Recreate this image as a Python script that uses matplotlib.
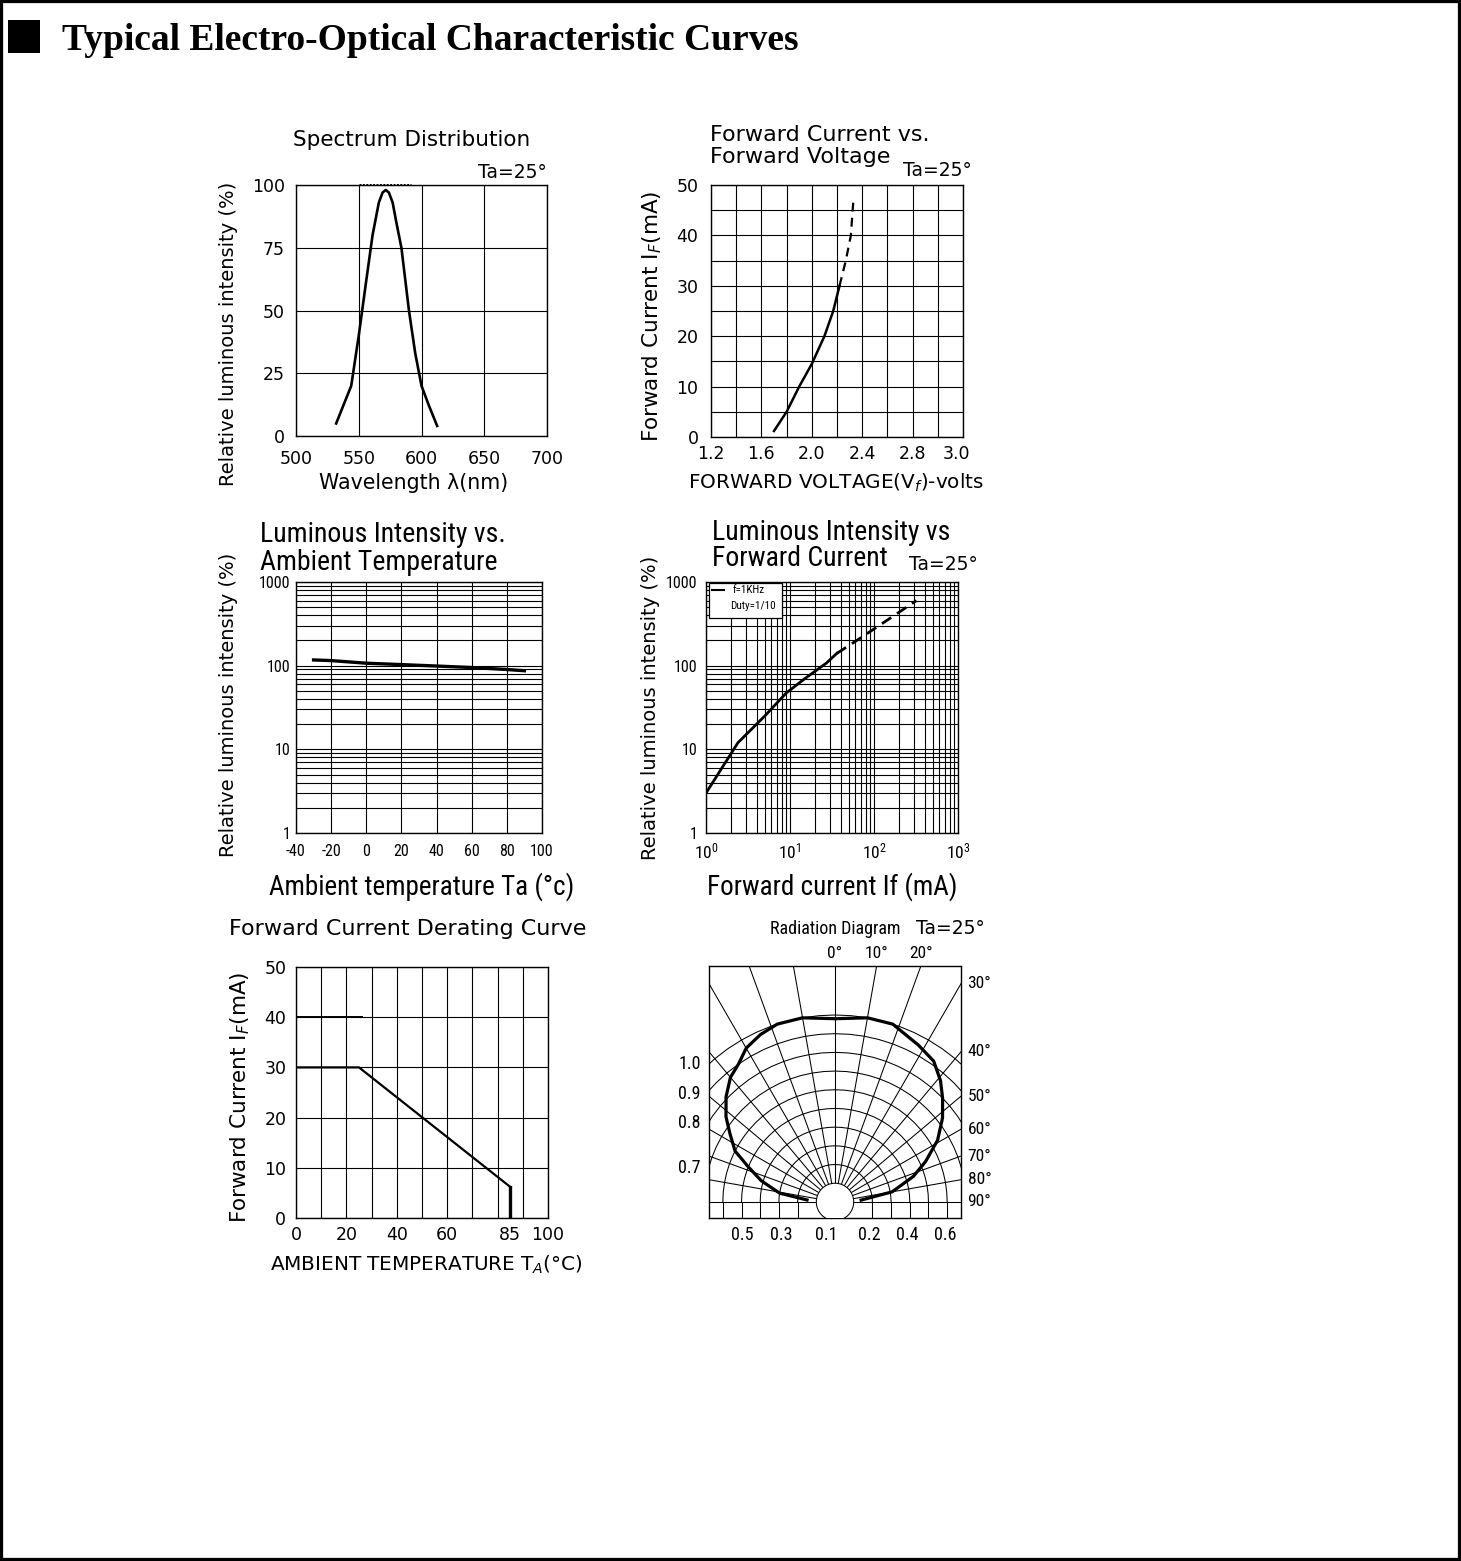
import numpy as np
import matplotlib
matplotlib.use('Agg')
import matplotlib.pyplot as plt
from matplotlib.patches import Rectangle, Circle
from matplotlib.ticker import LogLocator, NullFormatter

# Spectrum distribution
wavelength = [532, 544, 550, 556, 561, 566, 569, 571.5, 574, 577, 580, 584, 590, 595, 600, 606, 612.5]
spectrum = [5, 20, 40, 62, 80, 93, 97, 98, 97, 93, 85, 75, 50, 33, 20, 12, 4]
spec_xticks = [500, 550, 600, 650, 700]
spec_yticks = [0, 25, 50, 75, 100]

# Forward current vs forward voltage
vf_solid = [1.70, 1.80, 1.90, 2.00, 2.10, 2.17, 2.22]
if_solid = [1.2, 5, 10, 14.5, 20, 25, 30]
vf_dash = [2.22, 2.27, 2.31, 2.33]
if_dash = [30, 35, 40, 47]
vf_tick_pos = [1.2, 1.6, 2.0, 2.4, 2.8, 3.15]
vf_tick_labels = ['1.2', '1.6', '2.0', '2.4', '2.8', '3.0']
if_ticks = [0, 10, 20, 30, 40, 50]

# Luminous intensity vs ambient temperature
temp = [-30, -20, 0, 20, 40, 60, 80, 90]
li_temp = [117, 115, 107, 103, 99, 95, 90, 87]
temp_ticks = [-40, -20, 0, 20, 40, 60, 80, 100]
log_ticks = [1, 10, 100, 1000]
log_labels = ['1', '10', '100', '1000']

# Luminous intensity vs forward current
if_li_solid = [1, 2.4, 5, 9, 15, 27, 36]
li_solid = [3, 12, 25, 47, 70, 107, 140]
if_li_dash = [36, 60, 89, 150, 320]
li_dash = [140, 195, 254, 360, 600]
if_log_labels = [r'$\mathregular{10^{0}}$', r'$\mathregular{10^{1}}$',
                 r'$\mathregular{10^{2}}$', r'$\mathregular{10^{3}}$']

# Derating curve
der_temp = [0, 25, 85, 85]
der_if = [30, 30, 6.2, 0]
peak_temp = [0, 26]
peak_if = [40, 40]
der_tick_pos = [0, 20, 40, 60, 85, 100]
der_tick_labels = ['0', '20', '40', '60', '85', '100']

# Radiation diagram (angle from axis, relative intensity)
rad_angle = [-86, -81, -74, -68, -63, -57, -52, -46, -40, -35, -30, -24, -18, -10, 0,
             10, 18, 28, 35, 41, 46, 52, 59, 66, 72, 80, 86]
rad_rel = [0.15, 0.30, 0.41, 0.50, 0.60, 0.67, 0.74, 0.81, 0.87, 0.90, 0.95, 0.98, 1.0, 1.0, 0.98,
           1.0, 1.0, 0.95, 0.92, 0.86, 0.80, 0.73, 0.64, 0.53, 0.44, 0.31, 0.14]
rad_left_pos = [0.749, 0.588, 0.433, 0.193]
rad_left_labels = ['1.0', '0.9', '0.8', '0.7']
rad_bottom_pos = [-0.497, -0.289, -0.048, 0.182, 0.385, 0.588]
rad_bottom_labels = ['0.5', '0.3', '0.1', '0.2', '0.4', '0.6']
rad_top_angles = [0, 10, 20]
rad_side_angles = [30, 40, 50, 60, 70, 80, 90]

WIDE = ['DejaVu Sans']
NARROW = ['Roboto Condensed', 'Liberation Sans Narrow', 'Roboto', 'DejaVu Sans']

W, H = 1461, 1561
fig = plt.figure(figsize=(W / 100, H / 100), dpi=100)
fig.patch.set_facecolor('white')


def px_axes(l, t, r, b):
    return fig.add_axes([l / W, 1 - b / H, (r - l) / W, (b - t) / H])


def label(x, y, s, **kw):
    kw.setdefault('ha', 'center')
    kw.setdefault('va', 'center')
    kw.setdefault('color', 'black')
    fig.text(x / W, 1 - y / H, s, **kw)


def frame(ax):
    for sp in ax.spines.values():
        sp.set_linewidth(1.0)
        sp.set_color('black')
    ax.tick_params(which='both', length=0, colors='black')
    ax.set_axisbelow(True)


GRID = dict(color='black', lw=0.8)

# page border and heading
fig.patches.append(Rectangle((0, 0), 1, 1, transform=fig.transFigure, fill=False,
                             edgecolor='black', lw=4.5))
fig.patches.append(Rectangle((8 / W, 1 - 53 / H), 32 / W, 33 / H, transform=fig.transFigure,
                             facecolor='black', edgecolor='none'))
label(62, 50, 'Typical Electro-Optical Characteristic Curves', ha='left', va='baseline',
      family='Liberation Serif', weight='bold', fontsize=27)

# ---- spectrum distribution ----
ax1 = px_axes(296, 185, 547, 436)
frame(ax1)
ax1.set_xlim(500, 700)
ax1.set_ylim(0, 100)
ax1.set_xticks(spec_xticks, [str(v) for v in spec_xticks], family=WIDE, fontsize=12.5)
ax1.set_yticks(spec_yticks, [str(v) for v in spec_yticks], family=WIDE, fontsize=12.5)
ax1.tick_params(axis='x', pad=10)
ax1.tick_params(axis='y', pad=8)
ax1.grid(True, **GRID)
ax1.plot(wavelength, spectrum, color='black', lw=1.9, solid_joinstyle='round')
ax1.plot([550, 592], [100.4, 100.4], color='black', lw=0.7, ls=(0, (2, 1.5)), clip_on=False)
label(412, 140, 'Spectrum Distribution', family=WIDE, fontsize=15.5)
label(547, 172, 'Ta=25°', ha='right', family=WIDE, fontsize=13.5)
label(228, 334, 'Relative luminous intensity (%)', rotation=90, family=WIDE, fontsize=14)
label(414, 483, 'Wavelength λ(nm)', family=WIDE, fontsize=14.8)

# ---- forward current vs voltage ----
ax2 = px_axes(711, 185, 963, 437)
frame(ax2)
ax2.set_xlim(1.2, 3.2)
ax2.set_ylim(0, 50)
ax2.xaxis.remove_overlapping_locs = False
ax2.yaxis.remove_overlapping_locs = False
ax2.set_xticks(np.arange(1.2, 3.21, 0.2), minor=True)
ax2.set_yticks(np.arange(0, 51, 5), minor=True)
ax2.set_xticks(vf_tick_pos, vf_tick_labels, family=WIDE, fontsize=12.5)
ax2.set_yticks(if_ticks, [str(v) for v in if_ticks], family=WIDE, fontsize=12.5)
ax2.tick_params(axis='x', pad=6)
ax2.tick_params(axis='y', pad=9)
ax2.grid(True, which='minor', **GRID)
ax2.plot(vf_solid, if_solid, color='black', lw=1.8)
ax2.plot(vf_dash, if_dash, color='black', lw=1.6, ls=(0, (4, 2.8)))
label(710, 135, 'Forward Current vs.', ha='left', family=WIDE, fontsize=16)
label(710, 157, 'Forward Voltage', ha='left', family=WIDE, fontsize=16)
label(972, 171, 'Ta=25°', ha='right', family=WIDE, fontsize=13.5)
label(652, 316, 'Forward Current I$_F$(mA)', rotation=90, family=WIDE, fontsize=15.5)
label(836, 483, 'FORWARD VOLTAGE(V$_f$)-volts', family=WIDE, fontsize=14.4)

# ---- luminous intensity vs ambient temperature ----
ax3 = px_axes(296, 582, 542, 833)
frame(ax3)
ax3.set_yscale('log')
ax3.set_xlim(-40, 100)
ax3.set_ylim(1, 1000)
ax3.yaxis.set_minor_locator(LogLocator(base=10, subs=np.arange(2, 10)))
ax3.yaxis.set_minor_formatter(NullFormatter())
ax3.set_xticks(temp_ticks, [str(v) for v in temp_ticks], family=NARROW, fontsize=11.5)
ax3.set_yticks(log_ticks, log_labels, family=NARROW, fontsize=11.5)
ax3.tick_params(axis='x', pad=8)
ax3.tick_params(axis='y', pad=4)
ax3.grid(True, which='both', **GRID)
ax3.plot(temp, li_temp, color='black', lw=2.4)
label(260, 535, 'Luminous Intensity vs.', ha='left', family=NARROW, fontsize=20)
label(260, 563, 'Ambient Temperature', ha='left', family=NARROW, fontsize=20)
label(228, 705, 'Relative luminous intensity (%)', rotation=90, family=WIDE, fontsize=14)
label(422, 887, 'Ambient temperature Ta (°c)', family=NARROW, fontsize=19.5)

# ---- luminous intensity vs forward current ----
ax4 = px_axes(706, 582, 958, 833)
frame(ax4)
ax4.set_xscale('log')
ax4.set_yscale('log')
ax4.set_xlim(1, 1000)
ax4.set_ylim(1, 1000)
for axis in (ax4.xaxis, ax4.yaxis):
    axis.set_minor_locator(LogLocator(base=10, subs=np.arange(2, 10)))
    axis.set_minor_formatter(NullFormatter())
ax4.set_xticks(log_ticks, if_log_labels, family=NARROW, fontsize=12.5)
ax4.set_yticks(log_ticks, log_labels, family=NARROW, fontsize=11.5)
ax4.tick_params(axis='x', pad=6)
ax4.tick_params(axis='y', pad=6)
ax4.grid(True, which='both', **GRID)
ax4.plot(if_li_solid, li_solid, color='black', lw=2.0)
ax4.plot(if_li_dash, li_dash, color='black', lw=2.0, ls=(0, (4, 2.5)))
ax4.add_patch(Rectangle((0.012, 0.855), 0.29, 0.14, transform=ax4.transAxes,
                        facecolor='white', edgecolor='black', lw=0.9, zorder=5))
ax4.plot([0.024, 0.07], [0.97, 0.97], transform=ax4.transAxes, color='black', lw=1.5, zorder=6)
ax4.text(0.105, 0.97, 'f=1KHz', transform=ax4.transAxes, ha='left', va='center',
         family=NARROW, fontsize=8, zorder=6)
ax4.text(0.095, 0.905, 'Duty=1/10', transform=ax4.transAxes, ha='left', va='center',
         family=NARROW, fontsize=8, zorder=6)
label(712, 532, 'Luminous Intensity vs', ha='left', family=NARROW, fontsize=20)
label(712, 558, 'Forward Current', ha='left', family=NARROW, fontsize=20)
label(978, 565, 'Ta=25°', ha='right', family=WIDE, fontsize=13.5)
label(650, 708, 'Relative luminous intensity (%)', rotation=90, family=WIDE, fontsize=14)
label(832, 887, 'Forward current If (mA)', family=NARROW, fontsize=19.5)

# ---- derating curve ----
ax5 = px_axes(296, 967, 548, 1218)
frame(ax5)
ax5.set_xlim(0, 100)
ax5.set_ylim(0, 50)
ax5.xaxis.remove_overlapping_locs = False
ax5.set_xticks(np.arange(0, 101, 10), minor=True)
ax5.set_xticks(der_tick_pos, der_tick_labels, family=WIDE, fontsize=12.5)
ax5.set_yticks(if_ticks, [str(v) for v in if_ticks], family=WIDE, fontsize=12.5)
ax5.tick_params(axis='x', pad=6)
ax5.tick_params(axis='y', pad=7)
ax5.grid(True, which='minor', axis='x', **GRID)
ax5.grid(True, which='major', axis='y', **GRID)
ax5.plot(der_temp, der_if, color='black', lw=1.6)
ax5.plot(der_temp[2:], der_if[2:], color='black', lw=2.4)
ax5.plot(peak_temp, peak_if, color='black', lw=1.4)
label(408, 929, 'Forward Current Derating Curve', family=WIDE, fontsize=16)
label(240, 1097, 'Forward Current I$_F$(mA)', rotation=90, family=WIDE, fontsize=15.5)
label(426, 1265, 'AMBIENT TEMPERATURE T$_A$(°C)', family=WIDE, fontsize=14.4)

# ---- radiation diagram ----
ax6 = px_axes(709, 966, 961, 1218)
frame(ax6)
x_half, y_top, y_bot = 0.674, 1.262, -0.086
ax6.set_xlim(-x_half, x_half)
ax6.set_ylim(y_bot, y_top)
ax6.set_yticks(rad_left_pos, rad_left_labels, family=NARROW, fontsize=13)
ax6.set_xticks(rad_bottom_pos, rad_bottom_labels, family=NARROW, fontsize=13)
ax6.tick_params(axis='x', pad=6)
ax6.tick_params(axis='y', pad=6)
thin = dict(color='black', lw=0.75)
for a in range(-80, 81, 10):
    t = np.radians(a)
    ax6.plot([0.1 * np.sin(t), 2 * np.sin(t)], [0.1 * np.cos(t), 2 * np.cos(t)], **thin)
ax6.axhline(0, **thin)
arc_t = np.radians(np.arange(-90, 91, 5))
for k in range(2, 11):
    r = 0.1 * k
    ax6.plot(r * np.sin(arc_t), r * np.cos(arc_t), **thin)
    if r < x_half:
        ax6.plot([-r, -r], [0, y_bot], **thin)
        ax6.plot([r, r], [0, y_bot], **thin)
ax6.add_patch(Circle((0, 0), 0.1, facecolor='white', edgecolor='black', lw=0.75, zorder=3))
ax6.plot([0, 0], [0.1, 2], **thin)
rt = np.radians(rad_angle)
rr = np.array(rad_rel)
ax6.plot(rr * np.sin(rt), rr * np.cos(rt), color='black', lw=2.3, zorder=4)
for a in rad_top_angles:
    ax6.text(y_top * np.tan(np.radians(a)), y_top + 0.025, f'{a}°', ha='center', va='bottom',
             family=NARROW, fontsize=12.5, clip_on=False)
for a in rad_side_angles:
    yy = x_half / np.tan(np.radians(a)) if a < 90 else 0.0
    ax6.text(x_half + 0.035, min(yy, 1.22), f'{a}°', ha='left', va='center',
             family=NARROW, fontsize=12.5, clip_on=False)
label(770, 929, 'Radiation Diagram', ha='left', family=NARROW, fontsize=13)
label(985, 929, 'Ta=25°', ha='right', family=WIDE, fontsize=13.5)

fig.savefig('out.png', dpi=100, facecolor='white')
